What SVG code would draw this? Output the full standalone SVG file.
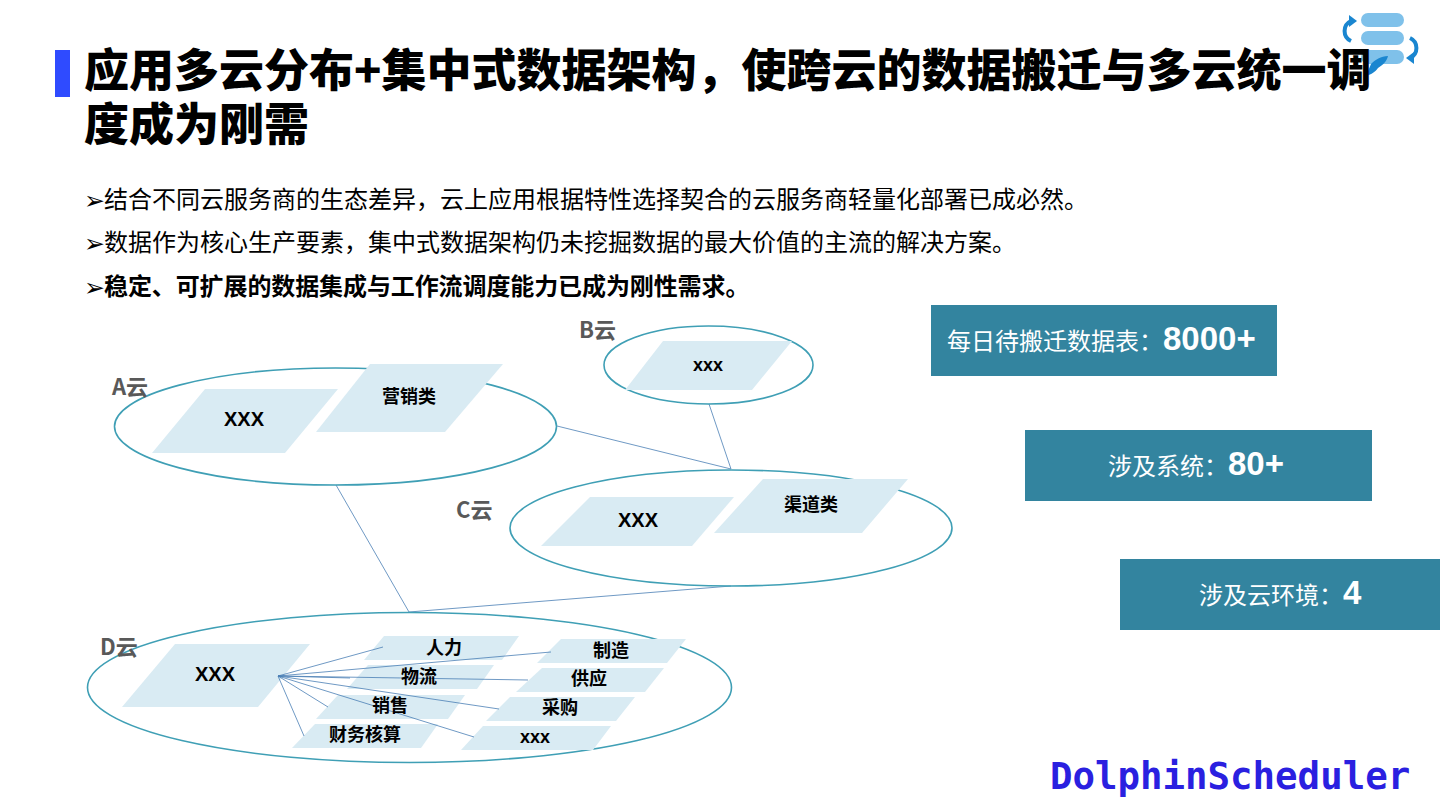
<svg xmlns="http://www.w3.org/2000/svg" width="1440" height="810" viewBox="0 0 1440 810">
<style>
text{font-family:"Noto Sans CJK SC","Noto Sans",sans-serif}
.t{font-size:45px;font-weight:900;fill:#000}
.b{font-size:24px;fill:#000}
.m{font-family:"DejaVu Sans",sans-serif;font-size:25px;fill:#000}
.c{font-size:22px;font-weight:700;fill:#595959}
.l{font-size:18px;font-weight:700;fill:#000;text-anchor:middle}
.x{font-family:"Liberation Sans",sans-serif;font-size:20px;font-weight:700;fill:#000;text-anchor:middle}
.e{fill:none;stroke:#3f9fb5;stroke-width:1.6}
.p{fill:#d9ebf3}
.s{fill:#33849f}
.w{font-size:24px;fill:#fff}
.n{font-family:"Liberation Sans",sans-serif;font-size:33px;font-weight:700;fill:#fff}
.k{fill:none;stroke:#4a7fb5;stroke-width:.8}
.a{fill:none;stroke:#1a86d0;stroke-width:4}
.r{fill:#7fc1ea}
</style>
<rect width="1440" height="810" fill="#fff"/>
<g id="logo">
<rect class="r" x="1361" y="13" width="43" height="14" rx="7"/>
<rect class="r" x="1361" y="31" width="43" height="14" rx="7"/>
<rect class="r" x="1361" y="50" width="43" height="14" rx="7"/>
<path class="a" d="M1351 21A11 11 0 0 0 1351 41"/>
<path fill="#1a86d0" d="M1357 21L1349 15V27Z"/>
<path class="a" d="M1410 38A11 11 0 0 1 1410 58"/>
<path fill="#1a86d0" d="M1406 58L1414 52V64Z"/>
<path fill="#1a86d0" d="M1388 56C1381 56 1375 60 1371 64L1366 76C1372 74 1375 72 1378 68C1383 65 1387 61 1388 56Z"/>
</g>
<g id="title">
<rect x="55" y="50" width="15" height="47" fill="#2f4bff"/>
<text class="t" x="84" y="87">应用多云分布+集中式数据架构，使跨云的数据搬迁与多云统一调</text>
<text class="t" x="84" y="141">度成为刚需</text>
</g>
<g id="bullets">
<text class="m" x="84" y="209">➢</text>
<text class="b" x="104" y="208">结合不同云服务商的生态差异，云上应用根据特性选择契合的云服务商轻量化部署已成必然。</text>
<text class="m" x="84" y="252">➢</text>
<text class="b" x="104" y="251">数据作为核心生产要素，集中式数据架构仍未挖掘数据的最大价值的主流的解决方案。</text>
<text class="m" x="84" y="296" font-weight="700">➢</text>
<text class="b" x="104" y="295" font-weight="700" letter-spacing="-.1">稳定、可扩展的数据集成与工作流调度能力已成为刚性需求。</text>
</g>
<g id="connectors">
<path class="k" d="M557 426L731 469M709 404L731 469M336 485L409 612M731 586L409 612"/>
</g>
<g id="cloud-a">
<ellipse class="e" cx="335.5" cy="426.5" rx="221" ry="58.5"/>
<path class="p" d="M205 389H338L285 453H152Z"/>
<path class="p" d="M370 364H503L445 432H316Z"/>
<text class="c" x="112" y="395">A云</text>
<text class="x" x="244" y="426">XXX</text>
<text class="l" x="409" y="403">营销类</text>
</g>
<g id="cloud-b">
<ellipse class="e" cx="708.5" cy="365" rx="104.5" ry="39"/>
<path class="p" d="M663 341H792L752 390H625Z"/>
<text class="c" x="579" y="338">B云</text>
<text class="x" x="708" y="371" style="font-size:18px">xxx</text>
</g>
<g id="cloud-c">
<ellipse class="e" cx="731" cy="528" rx="221" ry="58"/>
<path class="p" d="M590 497H734L692 546H541Z"/>
<path class="p" d="M763 479H908L862 533H714Z"/>
<text class="c" x="456" y="518">C云</text>
<text class="x" x="638" y="527">XXX</text>
<text class="l" x="811" y="511">渠道类</text>
</g>
<g id="cloud-d">
<ellipse class="e" cx="409.5" cy="687.5" rx="322" ry="75"/>
<path class="p" d="M175 644H310L258 707H122Z"/>
<path class="p" d="M384 636H519L502 660H364Z"/>
<path class="p" d="M561 639H686L667 663H537Z"/>
<path class="p" d="M368 665H494L477 689H347Z"/>
<path class="p" d="M542 668H664L645 692H516Z"/>
<path class="p" d="M338 695H465L448 719H316Z"/>
<path class="p" d="M510 697H635L616 721H486Z"/>
<path class="p" d="M315 724H438L421 748H292Z"/>
<path class="p" d="M483 726H611L593 750H461Z"/>
<path class="k" d="M278 676L383 647M278 676L551 652M278 676L350 678M278 676L528 680M278 676L499 709M278 676L474 737M278 676L328 707M278 676L304 736"/>
<text class="c" x="100" y="655">D云</text>
<text class="x" x="215" y="681">XXX</text>
<text class="l" x="444" y="654">人力</text>
<text class="l" x="611" y="657">制造</text>
<text class="l" x="419" y="683">物流</text>
<text class="l" x="589" y="685">供应</text>
<text class="l" x="390" y="712">销售</text>
<text class="l" x="560" y="714">采购</text>
<text class="l" x="365" y="741">财务核算</text>
<text class="x" x="535" y="743" style="font-size:18px">xxx</text>
</g>
<g id="stat-1">
<rect class="s" x="931" y="305" width="346" height="71"/>
<text class="w" x="947" y="350">每日待搬迁数据表：</text>
<text class="n" x="1163" y="350">8000+</text>
</g>
<g id="stat-2">
<rect class="s" x="1025" y="430" width="347" height="71"/>
<text class="w" x="1108" y="475">涉及系统：</text>
<text class="n" x="1228" y="475">80+</text>
</g>
<g id="stat-3">
<rect class="s" x="1120" y="559" width="320" height="71"/>
<text class="w" x="1199" y="604">涉及云环境：</text>
<text class="n" x="1343" y="604">4</text>
</g>
<g id="brand">
<text x="1050" y="789" style="font-family:'DejaVu Sans Mono',monospace;font-size:37.4px;font-weight:700;fill:#2a20e0">DolphinScheduler</text>
</g>
</svg>
